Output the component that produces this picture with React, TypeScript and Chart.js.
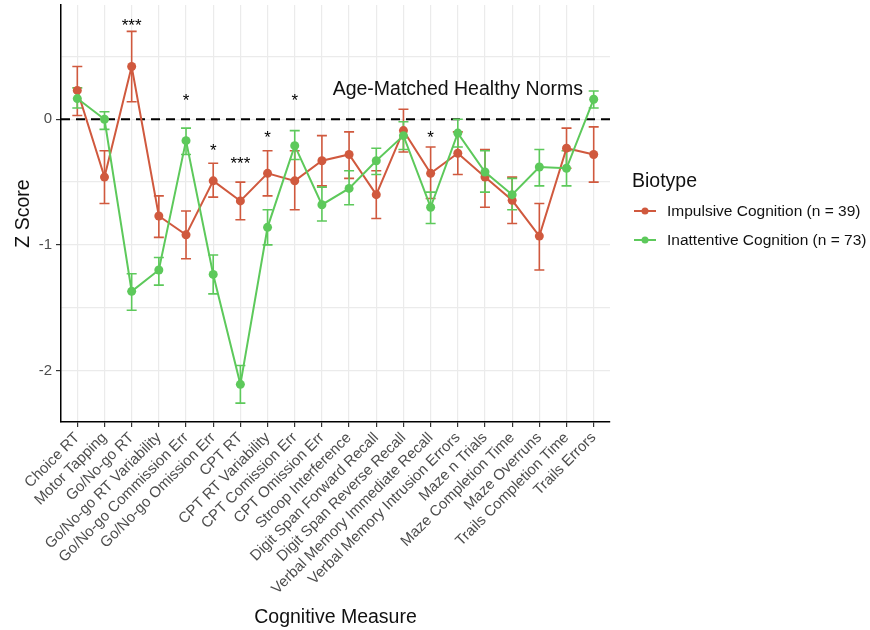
import React, { useEffect, useRef } from 'react';
import { Chart, registerables } from 'chart.js';

Chart.register(...registerables);

const categories = [
  'Choice RT',
  'Motor Tapping',
  'Go/No-go RT',
  'Go/No-go RT Variability',
  'Go/No-go Commission Err',
  'Go/No-go Omission Err',
  'CPT RT',
  'CPT RT Variability',
  'CPT Comission Err',
  'CPT Omission Err',
  'Stroop Interference',
  'Digit Span Forward Recall',
  'Digit Span Reverse Recall',
  'Verbal Memory Immediate Recall',
  'Verbal Memory Intrusion Errors',
  'Maze n Trials',
  'Maze Completion Time',
  'Maze Overruns',
  'Trails Completion Time',
  'Trails Errors',
];

const impulsiveMean = [0.23, -0.46, 0.42, -0.77, -0.92, -0.49, -0.65, -0.43, -0.49, -0.33, -0.28, -0.6, -0.09, -0.43, -0.27, -0.46, -0.645, -0.93, -0.23, -0.28];
const impulsiveLow = [0.03, -0.67, 0.14, -0.94, -1.11, -0.62, -0.8, -0.61, -0.72, -0.53, -0.47, -0.79, -0.26, -0.63, -0.44, -0.7, -0.83, -1.2, -0.39, -0.5];
const impulsiveHigh = [0.42, -0.25, 0.7, -0.61, -0.73, -0.35, -0.5, -0.25, -0.25, -0.13, -0.1, -0.41, 0.08, -0.22, -0.1, -0.24, -0.46, -0.67, -0.07, -0.06];

const inattentiveMean = [0.165, 0.0, -1.37, -1.2, -0.17, -1.235, -2.11, -0.86, -0.21, -0.68, -0.55, -0.33, -0.13, -0.7, -0.11, -0.42, -0.6, -0.38, -0.39, 0.16];
const inattentiveLow = [0.09, -0.08, -1.52, -1.32, -0.28, -1.39, -2.26, -1.0, -0.32, -0.81, -0.68, -0.44, -0.24, -0.83, -0.22, -0.58, -0.72, -0.53, -0.53, 0.09];
const inattentiveHigh = [0.25, 0.06, -1.23, -1.1, -0.07, -1.08, -1.96, -0.72, -0.09, -0.54, -0.41, -0.23, -0.02, -0.58, 0.0, -0.25, -0.47, -0.24, -0.25, 0.225];

const starLabels = ['', '', '***', '', '*', '*', '***', '*', '*', '', '', '', '', '*', '', '', '', '', '', ''];
const starValues = [null, null, 0.775, null, 0.178, -0.22, -0.327, -0.12, 0.178, null, null, null, null, -0.12, null, null, null, null, null, null];

const normLabel = 'Age-Matched Healthy Norms';
const normValue = 0;
const normLabelX = 14;
const normLabelY = 0.24;

const yTickLabels = ['0', '-1', '-2'];
const yTickValues = [0, -1, -2];

const seriesNames = ['Impulsive Cognition (n = 39)', 'Inattentive Cognition (n = 73)'];
const legendTitle = 'Biotype';
const xTitle = 'Cognitive Measure';
const yTitle = 'Z Score';

const RED = '#D0593E';
const GREEN = '#5DC95B';
const FONT = "'Liberation Sans', Arial, Helvetica, sans-serif";

export default function App() {
  const canvasRef = useRef<HTMLCanvasElement | null>(null);

  useEffect(() => {
    document.body.style.margin = '0';
    const canvas = canvasRef.current;
    if (!canvas) return;

    const errorBars = {
      id: 'errorBars',
      beforeDatasetsDraw(chart: any) {
        const { ctx, scales } = chart;
        const xs = scales.x;
        const ys = scales.y;
        ctx.save();
        ctx.strokeStyle = '#000';
        ctx.lineWidth = 2;
        ctx.setLineDash([9, 6]);
        const y0 = ys.getPixelForValue(normValue);
        ctx.beginPath();
        ctx.moveTo(chart.chartArea.left, y0);
        ctx.lineTo(chart.chartArea.right, y0);
        ctx.stroke();
        ctx.restore();

        const groups = [
          { low: impulsiveLow, high: impulsiveHigh, color: RED },
          { low: inattentiveLow, high: inattentiveHigh, color: GREEN },
        ];
        ctx.save();
        ctx.lineWidth = 1.6;
        groups.forEach((g) => {
          ctx.strokeStyle = g.color;
          g.low.forEach((lo, i) => {
            const x = xs.getPixelForValue(i);
            const yl = ys.getPixelForValue(lo);
            const yh = ys.getPixelForValue(g.high[i]);
            const half = 5;
            ctx.beginPath();
            ctx.moveTo(x, yl);
            ctx.lineTo(x, yh);
            ctx.moveTo(x - half, yl);
            ctx.lineTo(x + half, yl);
            ctx.moveTo(x - half, yh);
            ctx.lineTo(x + half, yh);
            ctx.stroke();
          });
        });
        ctx.restore();
      },
      afterDatasetsDraw(chart: any) {
        const { ctx, scales } = chart;
        const xs = scales.x;
        const ys = scales.y;
        ctx.save();
        ctx.fillStyle = '#000';
        ctx.textAlign = 'center';
        ctx.textBaseline = 'middle';
        ctx.font = `17px ${FONT}`;
        starLabels.forEach((s, i) => {
          const v = starValues[i];
          if (!s || v === null) return;
          ctx.fillText(s, xs.getPixelForValue(i), ys.getPixelForValue(v) + 4);
        });
        ctx.font = `19.5px ${FONT}`;
        ctx.fillStyle = '#111';
        ctx.fillText(normLabel, xs.getPixelForValue(normLabelX), ys.getPixelForValue(normLabelY));
        ctx.restore();
      },
      afterDraw(chart: any) {
        const { ctx } = chart;
        ctx.save();
        ctx.textBaseline = 'middle';
        ctx.textAlign = 'left';
        ctx.fillStyle = '#111';
        ctx.font = `19.5px ${FONT}`;
        ctx.fillText(legendTitle, 632, 182);
        const cols = [RED, GREEN];
        const ys = [211, 240];
        ctx.font = `15.5px ${FONT}`;
        seriesNames.forEach((name, i) => {
          ctx.strokeStyle = cols[i];
          ctx.fillStyle = cols[i];
          ctx.lineWidth = 2;
          ctx.beginPath();
          ctx.moveTo(634, ys[i]);
          ctx.lineTo(656, ys[i]);
          ctx.stroke();
          ctx.beginPath();
          ctx.arc(645, ys[i], 3.5, 0, Math.PI * 2);
          ctx.fill();
          ctx.fillStyle = '#111';
          ctx.fillText(name, 667, ys[i] + 1);
        });
        ctx.restore();
      },
    };

    const chart = new Chart(canvas, {
      type: 'line',
      data: {
        datasets: [
          {
            label: seriesNames[0],
            data: impulsiveMean.map((v, i) => ({ x: i, y: v })),
            borderColor: RED,
            backgroundColor: RED,
            borderWidth: 2,
            pointRadius: 4.5,
            pointHoverRadius: 4.5,
            pointBorderWidth: 0,
            tension: 0,
            order: 2,
          },
          {
            label: seriesNames[1],
            data: inattentiveMean.map((v, i) => ({ x: i, y: v })),
            borderColor: GREEN,
            backgroundColor: GREEN,
            borderWidth: 2,
            pointRadius: 4.5,
            pointHoverRadius: 4.5,
            pointBorderWidth: 0,
            tension: 0,
            order: 1,
          },
        ],
      },
      plugins: [errorBars],
      options: {
        animation: false,
        responsive: false,
        maintainAspectRatio: false,
        layout: { padding: { top: 5, right: 260, left: 0, bottom: 0 } },
        plugins: {
          legend: { display: false },
          tooltip: { enabled: false },
        },
        scales: {
          x: {
            type: 'linear',
            min: -0.6,
            max: categories.length - 0.4,
            afterBuildTicks: (axis: any) => {
              axis.ticks = categories.map((_, i) => ({ value: i }));
            },
            afterFit: (axis: any) => {
              axis.height = 208;
              axis.paddingLeft = 0;
              axis.paddingRight = 0;
            },
            ticks: {
              autoSkip: false,
              minRotation: 45,
              maxRotation: 45,
              padding: 2,
              color: '#4d4d4d',
              font: { family: FONT, size: 15 },
              callback: (v: any) => categories[Number(v)] ?? '',
            },
            grid: {
              color: '#EBEBEB',
              lineWidth: 1.2,
              tickColor: '#333',
              tickLength: 5,
              drawTicks: true,
            },
            border: { display: true, color: '#000', width: 1.5 },
            title: {
              display: true,
              text: xTitle,
              color: '#111',
              font: { family: FONT, size: 19.5 },
              padding: { top: 0, bottom: 1 },
            },
          },
          y: {
            type: 'linear',
            min: -2.41,
            max: 0.91,
            afterBuildTicks: (axis: any) => {
              const t: any[] = [];
              for (let v = -2; v <= 0.5001; v += 0.5) t.push({ value: Math.round(v * 10) / 10 });
              axis.ticks = t;
            },
            afterFit: (axis: any) => {
              axis.width = 61;
              axis.paddingTop = 0;
              axis.paddingBottom = 0;
            },
            ticks: {
              padding: 4,
              color: '#4d4d4d',
              font: { family: FONT, size: 15 },
              callback: (v: any) => {
                const idx = yTickValues.indexOf(Number(v));
                return idx >= 0 ? yTickLabels[idx] : '';
              },
            },
            grid: {
              color: '#EBEBEB',
              lineWidth: 1.2,
              tickLength: 5,
              tickColor: (c: any) => (c.tick && Number.isInteger(c.tick.value) ? '#333' : 'rgba(0,0,0,0)'),
            },
            border: { display: true, color: '#000', width: 1.5 },
            title: {
              display: true,
              text: yTitle,
              color: '#111',
              font: { family: FONT, size: 19.5 },
              padding: { top: 12, bottom: 0 },
            },
          },
        },
      } as any,
    });

    return () => chart.destroy();
  }, []);

  return (
    <div style={{ width: 870, height: 630, background: '#fff' }}>
      <canvas ref={canvasRef} width={870} height={630} style={{ display: 'block' }} />
    </div>
  );
}
